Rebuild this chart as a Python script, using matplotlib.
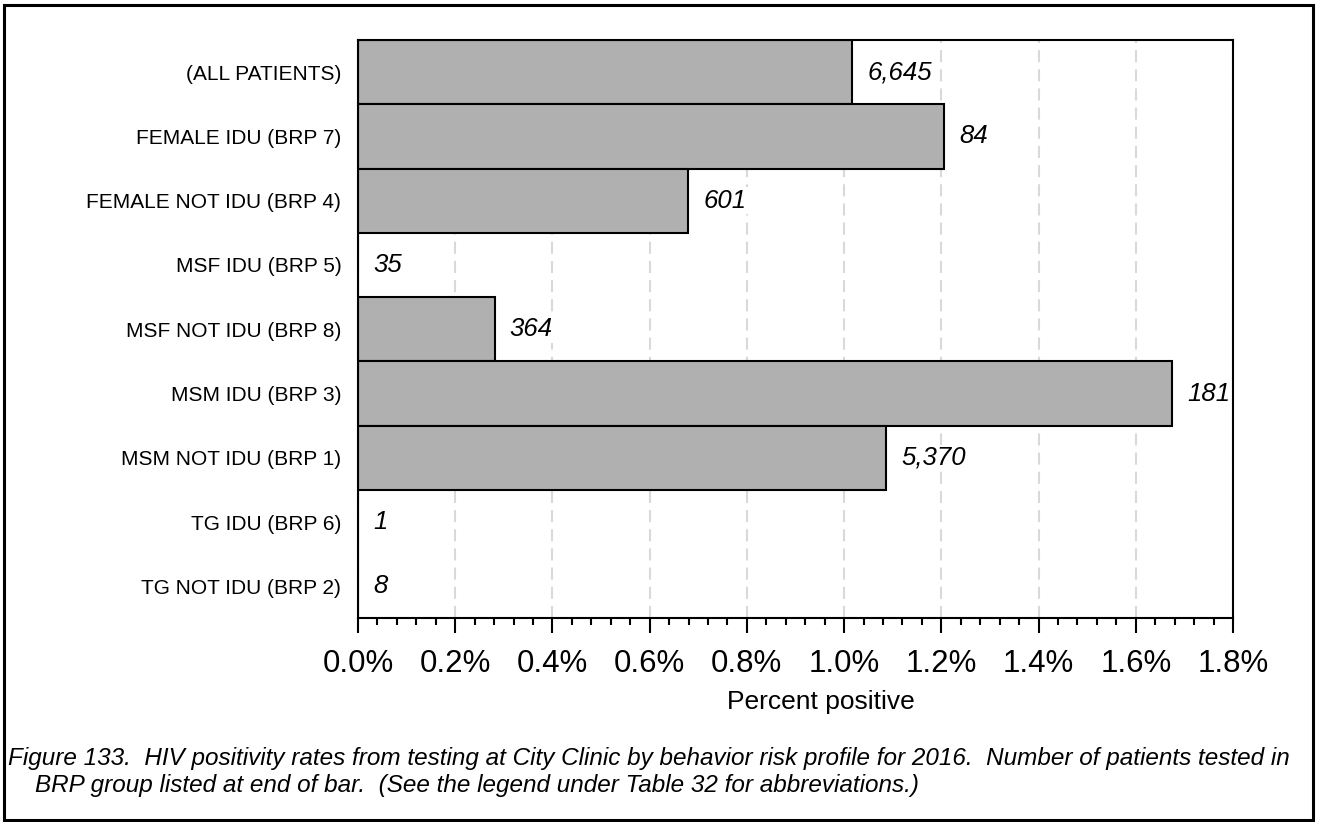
import matplotlib.pyplot as plt
from matplotlib.ticker import MultipleLocator, FuncFormatter
from matplotlib.patches import Rectangle

plt.rcParams['font.family'] = ['Liberation Sans', 'DejaVu Sans']

# data (top to bottom)
groups = ['(ALL PATIENTS)', 'FEMALE IDU (BRP 7)', 'FEMALE NOT IDU (BRP 4)',
          'MSF IDU (BRP 5)', 'MSF NOT IDU (BRP 8)', 'MSM IDU (BRP 3)',
          'MSM NOT IDU (BRP 1)', 'TG IDU (BRP 6)', 'TG NOT IDU (BRP 2)']
pct_positive = [1.017, 1.206, 0.679, 0.0, 0.281, 1.674, 1.086, 0.0, 0.0]
n_tested = ['6,645', '84', '601', '35', '364', '181', '5,370', '1', '8']

caption = ('Figure 133.  HIV positivity rates from testing at City Clinic by behavior risk profile for 2016.  '
           'Number of patients tested in\n'
           '    BRP group listed at end of bar.  (See the legend under Table 32 for abbreviations.)')

fig = plt.figure(figsize=(13.18, 8.22), dpi=100)
ax = fig.add_axes([0.2716, 0.2476, 0.6639, 0.7037])

ypos = list(range(len(groups)))
ax.barh(ypos, pct_positive, height=1.0, color='#b0b0b0',
        edgecolor='black', linewidth=1.5, zorder=2)

for y, v, n in zip(ypos, pct_positive, n_tested):
    ax.annotate(n, xy=(v, y), xytext=(11, 0), textcoords='offset points',
                ha='left', va='center', fontsize=18.5, style='italic',
                bbox=dict(facecolor='white', edgecolor='none', pad=1),
                zorder=3)

ax.set_ylim(len(groups) - 0.5, -0.5)
ax.set_xlim(0, 1.8)
ax.set_yticks(ypos)
ax.set_yticklabels(groups, fontsize=15)
ax.tick_params(axis='y', length=0, pad=12)

ax.xaxis.set_major_locator(MultipleLocator(0.2))
ax.xaxis.set_minor_locator(MultipleLocator(0.04))
ax.xaxis.set_major_formatter(FuncFormatter(lambda x, p: f'{x:.1f}%'))
ax.tick_params(axis='x', which='major', length=11, width=1.5, labelsize=22.5, pad=11)
ax.tick_params(axis='x', which='minor', length=5, width=1.5)
ax.set_xlabel('Percent positive', fontsize=19, labelpad=10)
ax.xaxis.set_label_coords(0.529, -0.123)

ax.grid(axis='x', which='major', color='#d9d9d9', linestyle=(0, (5.8, 3.4)),
        linewidth=1.5, zorder=0)
ax.set_axisbelow(True)
for s in ax.spines.values():
    s.set_linewidth(1.5)

fig.text(0.006, 0.061, caption, fontsize=17.5, style='italic',
         ha='left', va='center', linespacing=1.2)

fig.patches.append(Rectangle((0.003, 0.002), 0.993, 0.992, transform=fig.transFigure,
                             fill=False, edgecolor='black', linewidth=2.2))

plt.savefig('out.png', dpi=100)
